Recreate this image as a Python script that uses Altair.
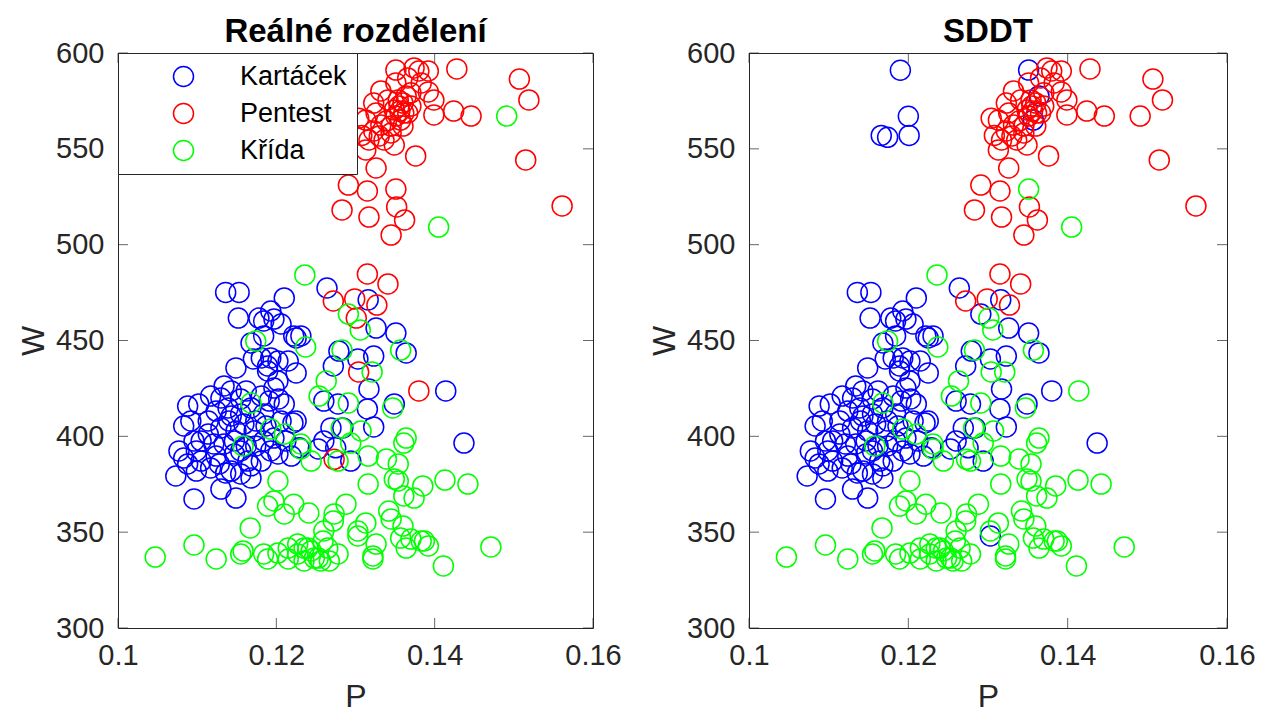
import altair as alt
import pandas as pd

CLASSES = ["Kartáček", "Pentest", "Křída"]
COLORS = ["#0000ff", "#ff0000", "#00ff00"]
CODE = {"K": "Kartáček", "P": "Pentest", "C": "Křída"}

x_ticks = [0.10, 0.12, 0.14, 0.16]
y_ticks = [300, 350, 400, 450, 500, 550, 600]

# (P, W, SDDT class) for each point, grouped by real class
kartacek = [
    (0.1190, 591, "K"), (0.1200, 567, "K"), (0.1166, 557, "K"), (0.1174, 556, "K"), (0.1201, 557, "K"),
    (0.1136, 475.1, "K"), (0.1153, 475.1, "K"), (0.1210, 472.2, "K"), (0.1152, 461.7, "K"), (0.1178, 461.7, "K"),
    (0.1193, 465.4, "K"), (0.1206, 458.6, "K"), (0.1197, 461.2, "K"), (0.1184, 460.2, "K"), (0.1231, 452.4, "K"),
    (0.1222, 452.4, "K"), (0.1184, 452.4, "K"), (0.1168, 448.7, "K"), (0.1149, 435.7, "K"), (0.1171, 440.4, "K"),
    (0.1181, 440.9, "K"), (0.1193, 440.9, "K"), (0.1202, 439.3, "K"), (0.1215, 439.3, "K"), (0.1225, 433.1, "K"),
    (0.1189, 434.1, "K"), (0.1202, 428.9, "K"), (0.1197, 425.2, "K"), (0.1203, 419.5, "K"), (0.1134, 426.3, "K"),
    (0.1143, 423.7, "K"), (0.1088, 415.8, "K"), (0.1102, 416.9, "K"), (0.1221, 407.0, "K"), (0.1189, 436.7, "K"),
    (0.1130, 420.0, "K"), (0.1155, 419.5, "K"), (0.1210, 416.9, "K"), (0.1083, 405.4, "K"), (0.1077, 392.4, "K"),
    (0.1083, 388.7, "K"), (0.1099, 392.4, "K"), (0.1105, 387.1, "K"), (0.1128, 385.6, "K"), (0.1114, 408.0, "K"),
    (0.1114, 401.2, "K"), (0.1130, 404.4, "K"), (0.1143, 410.6, "K"), (0.1159, 406.4, "K"), (0.1172, 402.8, "K"),
    (0.1184, 397.6, "K"), (0.1193, 392.4, "K"), (0.1181, 387.1, "K"), (0.1164, 387.1, "K"), (0.1147, 390.8, "K"),
    (0.1134, 396.0, "K"), (0.1121, 396.0, "K"), (0.1096, 397.6, "K"), (0.1147, 397.6, "K"), (0.1155, 411.7, "K"),
    (0.1168, 414.8, "K"), (0.1139, 414.8, "K"), (0.1184, 411.7, "K"), (0.1197, 399.1, "K"), (0.1202, 390.8, "K"),
    (0.1155, 380.4, "K"), (0.1136, 380.9, "K"), (0.1117, 383.5, "K"), (0.1088, 385.6, "K"), (0.1073, 379.3, "K"),
    (0.1096, 367.3, "K"), (0.1130, 372.5, "K"), (0.1149, 367.8, "K"), (0.1168, 378.3, "K"),
    (0.1124, 413.2, "K"), (0.1149, 402.8, "K"), (0.1162, 395.0, "K"), (0.1174, 408.0, "K"), (0.1187, 405.4, "K"),
    (0.1124, 389.7, "K"), (0.1105, 397.6, "K"), (0.1143, 381.9, "K"), (0.1168, 384.6, "K"), (0.1206, 408.0, "K"),
    (0.1212, 397.6, "K"), (0.1181, 421.0, "K"), (0.1162, 423.7, "K"), (0.1117, 421.0, "K"), (0.1092, 408.0, "K"),
    (0.1174, 395.0, "K"), (0.1155, 392.4, "K"), (0.1140, 408.0, "K"), (0.1191, 418.4, "K"), (0.1099, 381.9, "K"),
    (0.1219, 389.7, "K"),
    (0.1264, 477.4, "K"), (0.1316, 471.2, "K"), (0.1326, 456.5, "K"), (0.1351, 453.9, "K"), (0.1225, 451.3, "K"),
    (0.1279, 444.5, "K"), (0.1303, 440.4, "K"), (0.1323, 441.9, "K"), (0.1364, 443.5, "K"), (0.1272, 436.7, "K"),
    (0.1317, 424.7, "K"), (0.1414, 423.7, "C"), (0.1260, 418.4, "K"), (0.1278, 416.9, "K"), (0.1315, 414.3, "K"),
    (0.1349, 416.9, "K"), (0.1225, 408.0, "K"), (0.1269, 404.4, "K"), (0.1284, 404.4, "K"), (0.1323, 404.9, "K"),
    (0.1437, 396.5, "K"), (0.1260, 397.6, "K"), (0.1294, 387.1, "K"), (0.1275, 394.0, "K"), (0.1253, 393.4, "K"),
    (0.1229, 394.0, "K"),
]

pentest = [
    (0.1351, 591.1, "K"), (0.1374, 592.2, "P"), (0.1380, 590.6, "P"), (0.1392, 590.6, "P"), (0.1366, 587.0, "P"),
    (0.1428, 591.7, "P"), (0.1507, 586.4, "P"), (0.1519, 575.5, "P"), (0.1332, 580.2, "P"), (0.1392, 579.7, "P"),
    (0.1399, 575.5, "P"), (0.1399, 567.7, "P"), (0.1424, 569.7, "P"), (0.1446, 567.1, "P"), (0.1323, 573.9, "P"),
    (0.1341, 575.5, "P"), (0.1354, 575.5, "P"), (0.1364, 577.6, "K"), (0.1370, 572.3, "P"), (0.1361, 568.7, "P"),
    (0.1357, 565.0, "K"), (0.1349, 570.3, "P"), (0.1326, 568.7, "P"), (0.1313, 565.0, "P"), (0.1332, 562.4, "P"),
    (0.1323, 559.3, "P"), (0.1345, 558.3, "P"), (0.1336, 554.6, "P"), (0.1317, 554.6, "P"), (0.1349, 552.0, "P"),
    (0.1313, 549.4, "P"), (0.1376, 546.3, "P"), (0.1326, 540.0, "P"), (0.1291, 531.1, "P"), (0.1315, 528.0, "P"),
    (0.1351, 529.0, "C"), (0.1283, 518.1, "P"), (0.1317, 514.4, "P"), (0.1352, 519.7, "P"), (0.1362, 512.9, "P"),
    (0.1345, 505.0, "P"), (0.1515, 544.2, "P"), (0.1561, 520.2, "P"), (0.1315, 484.7, "P"), (0.1341, 479.5, "P"),
    (0.1272, 470.6, "P"), (0.1299, 471.7, "P"), (0.1327, 468.5, "P"), (0.1301, 461.7, "C"), (0.1304, 433.6, "C"),
    (0.1380, 423.7, "K"), (0.1273, 388.0, "C"),
    (0.1355, 572.3, "P"), (0.1360, 573.9, "P"), (0.1351, 567.1, "P"), (0.1356, 569.7, "P"), (0.1366, 568.7, "P"),
    (0.1339, 564.5, "P"), (0.1345, 561.9, "P"), (0.1360, 561.9, "P"), (0.1330, 556.7, "P"), (0.1370, 579.2, "P"),
    (0.1383, 584.4, "P"), (0.1351, 584.4, "P"), (0.1304, 566.0, "P"), (0.1308, 557.0, "P"),
]

krida = [
    (0.1491, 567.1, "P"), (0.1405, 509.2, "C"), (0.1236, 484.2, "C"), (0.1291, 463.8, "K"), (0.1306, 455.5, "C"),
    (0.1237, 446.6, "C"), (0.1283, 445.0, "C"), (0.1357, 445.0, "C"), (0.1321, 433.6, "C"), (0.1263, 428.9, "C"),
    (0.1254, 421.0, "C"), (0.1291, 417.4, "C"), (0.1347, 414.8, "C"), (0.1282, 404.4, "C"), (0.1307, 402.8, "C"),
    (0.1364, 399.1, "C"), (0.1294, 396.5, "C"), (0.1231, 396.0, "C"), (0.1174, 449.7, "C"), (0.1168, 417.4, "C"),
    (0.1193, 403.8, "C"), (0.1158, 395.0, "C"), (0.1210, 401.2, "C"), (0.1278, 387.1, "C"), (0.1244, 387.1, "C"),
    (0.1231, 393.4, "C"), (0.1361, 396.5, "C"), (0.1316, 389.7, "C"), (0.1339, 388.2, "C"), (0.1354, 385.6, "C"),
    (0.1316, 375.1, "C"), (0.1349, 377.7, "C"), (0.1354, 376.7, "C"), (0.1361, 368.9, "C"), (0.1374, 367.8, "C"),
    (0.1385, 374.1, "C"), (0.1413, 377.2, "C"), (0.1442, 375.1, "C"), (0.1288, 364.6, "C"), (0.1241, 360.0, "C"),
    (0.1273, 359.5, "C"), (0.1272, 355.8, "C"), (0.1222, 364.6, "C"), (0.1342, 361.0, "C"), (0.1345, 356.9, "C"),
    (0.1313, 354.8, "C"), (0.1303, 350.6, "C"), (0.1303, 348.0, "K"), (0.1326, 343.8, "C"), (0.1322, 337.6, "C"),
    (0.1322, 336.0, "C"), (0.1360, 353.2, "C"), (0.1357, 346.9, "C"), (0.1364, 341.7, "C"), (0.1370, 346.4, "C"),
    (0.1387, 345.4, "C"), (0.1392, 342.8, "C"), (0.1383, 345.4, "C"), (0.1411, 332.4, "C"), (0.1471, 342.3, "C"),
    (0.1260, 350.6, "C"), (0.1259, 345.4, "C"), (0.1265, 341.7, "C"), (0.1278, 338.6, "C"), (0.1244, 340.2, "C"),
    (0.1235, 341.7, "C"), (0.1227, 338.6, "C"), (0.1253, 336.5, "C"), (0.1267, 335.0, "C"), (0.1047, 337.0, "C"),
    (0.1096, 343.3, "C"), (0.1124, 336.0, "C"), (0.1158, 340.2, "C"), (0.1155, 338.6, "C"), (0.1167, 352.2, "C"),
    (0.1189, 363.6, "C"), (0.1197, 366.3, "C"), (0.1210, 359.5, "C"), (0.1184, 338.6, "C"), (0.1189, 336.0, "C"),
    (0.1202, 339.1, "C"), (0.1215, 341.7, "C"), (0.1215, 336.0, "C"), (0.1227, 343.8, "C"), (0.1240, 341.7, "C"),
    (0.1235, 335.0, "C"), (0.1248, 336.5, "C"), (0.1256, 335.0, "C"), (0.1202, 376.7, "C"),
]

rows = []
for real, pts in (("Kartáček", kartacek), ("Pentest", pentest), ("Křída", krida)):
    for p, w, s in pts:
        rows.append({"P": p, "W": w, "real": real, "sddt": CODE[s],
                     "real_o": CLASSES.index(real), "sddt_o": CLASSES.index(CODE[s])})
df = pd.DataFrame(rows)

FONT = "Liberation Sans"
INK = "#262626"

xs = alt.Scale(domain=[0.1, 0.16], nice=False, zero=False)
ys = alt.Scale(domain=[300, 600], nice=False, zero=False)
cs = alt.Scale(domain=CLASSES, range=COLORS)

xaxis = alt.Axis(values=x_ticks, format=".2~f", labelPadding=13, titlePadding=11,
                 labelFlush=False, labelOverlap=False)
yaxis = alt.Axis(values=y_ticks, labelPadding=14, titlePadding=5, labelOverlap=False)

xt = pd.DataFrame({"P": x_ticks})
yt = pd.DataFrame({"W": y_ticks})


def panel(title, field, order_field, legend, width):
    X = alt.X("P:Q", scale=xs, axis=xaxis, title="P")
    Y = alt.Y("W:Q", scale=ys, axis=yaxis, title="W")
    pts = alt.Chart(df).mark_point(shape="circle", filled=False, size=400, strokeWidth=1.5, opacity=1).encode(
        x=X, y=Y,
        color=alt.Color(f"{field}:N", scale=cs, legend=legend, title=None),
        order=alt.Order(f"{order_field}:Q"),
    )
    tb = alt.Chart(xt).mark_tick(orient="vertical", size=10, thickness=1, yOffset=-5, color=INK).encode(
        x=X, y=alt.YDatum(300, scale=ys, axis=yaxis, title="W"))
    tt = alt.Chart(xt).mark_tick(orient="vertical", size=10, thickness=1, yOffset=5, color=INK).encode(
        x=X, y=alt.YDatum(600, scale=ys, axis=yaxis, title="W"))
    tl = alt.Chart(yt).mark_tick(orient="horizontal", size=10, thickness=1, xOffset=5, color=INK).encode(
        y=Y, x=alt.XDatum(0.1, scale=xs, axis=xaxis, title="P"))
    tr = alt.Chart(yt).mark_tick(orient="horizontal", size=10, thickness=1, xOffset=-5, color=INK).encode(
        y=Y, x=alt.XDatum(0.16, scale=xs, axis=xaxis, title="P"))
    return alt.layer(pts, tb, tt, tl, tr).properties(
        width=width, height=575,
        title=alt.Title(title, fontSize=33, fontWeight="bold", color="black", offset=-10, font=FONT),
    )


legend = alt.Legend(orient="top-left", offset=0, padding=10, strokeColor=INK, fillColor="white",
                    symbolType="circle", symbolSize=400, symbolStrokeWidth=1.5, symbolOffset=42,
                    labelOffset=43, labelFontSize=27, labelFont=FONT, labelColor="black",
                    rowPadding=9, labelLimit=400)

left = panel("Reálné rozdělení", "real", "real_o", legend, 475)
right = panel("SDDT", "sddt", "sddt_o", None, 478)

chart = alt.hconcat(left, right, spacing=156, bounds="flush").resolve_scale(color="independent").configure(
    font=FONT, padding={"left": 17, "top": 15, "right": 5, "bottom": 2}
).configure_view(stroke=INK, strokeWidth=1).configure_axis(
    grid=False, domain=False, ticks=False, tickSize=0, labelFontSize=29, labelColor=INK, labelFont=FONT,
    titleFontSize=32, titleFontWeight="normal", titleColor=INK, titleFont=FONT,
)

chart.save("out.html", embed_options={"renderer": "svg", "actions": False})
